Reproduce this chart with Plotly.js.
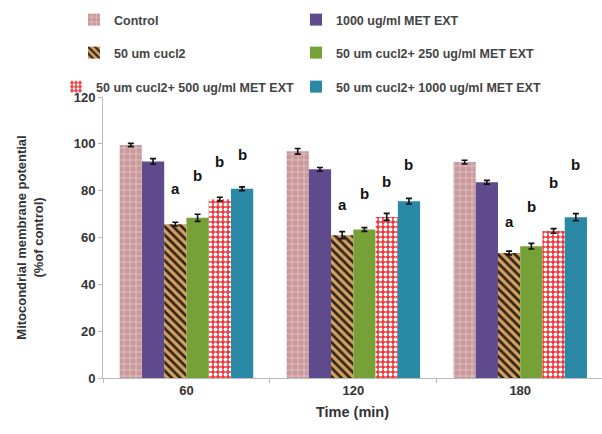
<!DOCTYPE html>
<html>
<head>
<meta charset="utf-8">
<script src="https://cdn.plot.ly/plotly-3.0.1.min.js"></script>
<style>html,body{margin:0;padding:0;background:#fff;}#chart{width:602px;height:434px;}</style>
</head>
<body>
<div id="chart"></div>
<script>
// ---- data ----
const categories = ['60', '120', '180'];
const seriesNames = [
  'Control',
  '1000 ug/ml MET EXT',
  '50 um cucl2',
  '50 um cucl2+ 250 ug/ml MET EXT',
  '50 um cucl2+ 500 ug/ml MET EXT',
  '50 um cucl2+ 1000 ug/ml MET EXT'
];
const control      = [99.5, 96.8, 92.2];
const met1000      = [92.5, 89.1, 83.6];
const cucl2        = [65.7, 61.0, 53.4];
const cucl2Met250  = [68.4, 63.4, 56.3];
const cucl2Met500  = [76.4, 68.8, 62.8];
const cucl2Met1000 = [80.8, 75.5, 68.7];
const errControl      = [0.7, 1.2, 0.8];
const errMet1000      = [1.2, 0.8, 0.8];
const errCucl2        = [0.8, 1.5, 0.8];
const errCucl2Met250  = [1.5, 0.8, 1.2];
const errCucl2Met500  = [0.8, 1.5, 1.0];
const errCucl2Met1000 = [0.8, 1.2, 1.5];
// significance letters (series 3..6) and the height they are written at
const letters = ['a', 'b', 'b', 'b'];
const letterY60  = [81, 86.5, 92.5, 95.6];
const letterY120 = [74.3, 79, 84, 91];
const letterY180 = [66.7, 73.4, 83.5, 91.2];

// ---- styling ----
const values = [control, met1000, cucl2, cucl2Met250, cucl2Met500, cucl2Met1000];
const errs = [errControl, errMet1000, errCucl2, errCucl2Met250, errCucl2Met500, errCucl2Met1000];
const markers = [
  {color: '#c99a9c', pattern: {shape: '+', fgcolor: '#e6c6c6', bgcolor: '#c99a9c', size: 6, solidity: 0.25}},
  {color: '#5e4a8c'},
  {color: '#d3a062', pattern: {shape: '\\', fgcolor: '#2e2418', bgcolor: '#d3a062', size: 6, solidity: 0.45}},
  {color: '#76a136'},
  {color: '#f0383c', pattern: {shape: '.', fgcolor: '#ffffff', bgcolor: '#f0383c', size: 5, solidity: 0.45}},
  {color: '#2a8aa6'}
];
const legendIds = ['legend', 'legend2', 'legend3', 'legend4', 'legend5', 'legend6'];

const traces = values.map((v, i) => ({
  type: 'bar',
  name: seriesNames[i],
  x: categories,
  y: v,
  marker: Object.assign({line: {width: 0}}, markers[i]),
  error_y: {type: 'data', array: errs[i], visible: true, color: '#111', thickness: 1.6, width: 3},
  legend: legendIds[i]
}));

const nS = seriesNames.length;
const groupW = 0.8;
const barW = groupW / nS;
const letterYs = [letterY60, letterY120, letterY180];
const annotations = [];
letterYs.forEach((ly, g) => {
  letters.forEach((L, k) => {
    const s = k + 2;
    annotations.push({
      xref: 'x', yref: 'y',
      x: g - groupW / 2 + (s + 0.5) * barW,
      y: ly[k],
      text: L, showarrow: false,
      font: {family: 'Liberation Sans, Arial, sans-serif', size: 15, color: '#111', weight: 'bold'}
    });
  });
});

const legendFont = {family: 'Liberation Sans, Arial, sans-serif', size: 12.5, color: '#444', weight: 'bold'};
function mkLegend(xpx, ypx) {
  return {
    orientation: 'h', xref: 'container', yref: 'container',
    x: xpx / 602, xanchor: 'left', y: 1 - ypx / 434, yanchor: 'middle',
    font: legendFont, itemwidth: 30, bgcolor: 'rgba(0,0,0,0)'
  };
}

const tickFont = {family: 'Liberation Sans, Arial, sans-serif', size: 13, color: '#333', weight: 'bold'};
const titleFont = {family: 'Liberation Sans, Arial, sans-serif', size: 13, color: '#333', weight: 'bold'};
const layout = {
  width: 602, height: 434,
  margin: {l: 103, r: 0, t: 97, b: 56, autoexpand: false},
  paper_bgcolor: '#fff', plot_bgcolor: '#fff',
  barmode: 'group', bargap: 0.2, bargroupgap: 0,
  showlegend: true,
  legend:  mkLegend(74, 20),
  legend2: mkLegend(296, 20),
  legend3: mkLegend(74, 53),
  legend4: mkLegend(296, 53),
  legend5: mkLegend(56, 87),
  legend6: mkLegend(296, 87),
  xaxis: {
    type: 'category', range: [-0.5, 2.49],
    showline: true, linecolor: '#bbb', linewidth: 1,
    ticks: 'outside', tickson: 'boundaries', ticklen: 4, tickcolor: '#bbb',
    tickfont: tickFont, showgrid: false, zeroline: false,
    title: {text: 'Time (min)', font: {family: 'Liberation Sans, Arial, sans-serif', size: 14.5, color: '#333', weight: 'bold'}, standoff: 10}
  },
  yaxis: {
    range: [0, 120], dtick: 20,
    showline: true, linecolor: '#bbb', linewidth: 1,
    ticks: 'outside', ticklen: 4, tickcolor: '#bbb',
    tickfont: tickFont, showgrid: false, zeroline: false,
    title: {text: 'Mitocondrial membrane potential<br>(%of control)', font: titleFont, standoff: 27}
  },
  annotations: annotations
};

Plotly.newPlot('chart', traces, layout, {displayModeBar: false, staticPlot: true});
</script>
</body>
</html>
